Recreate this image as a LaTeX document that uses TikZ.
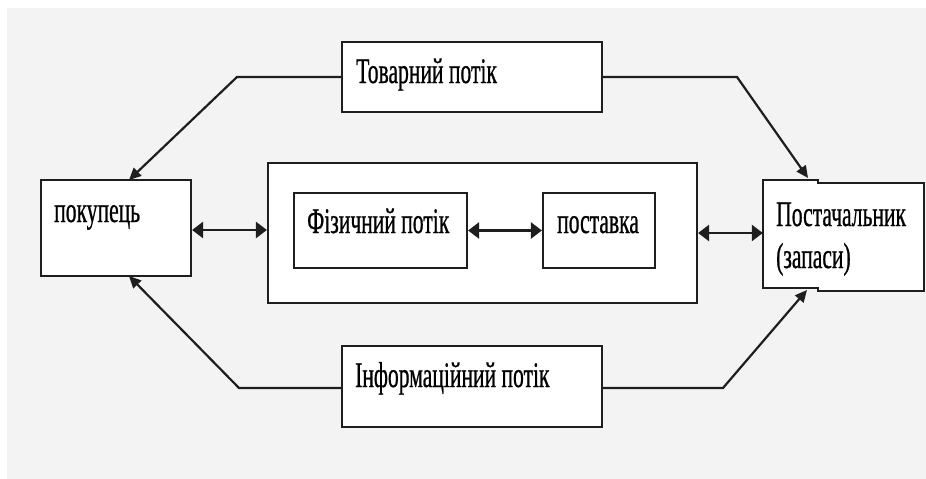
\documentclass[tikz,border=0pt]{standalone}
\usepackage{fontspec}
\newfontfamily\nfont[FakeStretch=0.6,FakeBold=0.6]{Liberation Serif}
\usetikzlibrary{arrows.meta}
\definecolor{bg}{HTML}{F3F3F3}
\definecolor{ln}{HTML}{1E1E1E}
\begin{document}
\begin{tikzpicture}[x=1pt,y=-1pt,
 box/.style={draw=ln, line width=2.2pt, fill=white, rectangle, inner sep=0pt},
 lbl/.style={inner sep=0pt, anchor=base west, font=\nfont\fontsize{36}{40}\selectfont},
 flow/.style={draw=ln, line width=2.2pt, -{Triangle[length=12pt,width=11pt]}},
 dbl/.style={draw=ln, line width=2.6pt, {Triangle[length=11pt,width=16pt]}-{Triangle[length=11pt,width=16pt]}}
]
\useasboundingbox (0,0) rectangle (926,479);
\fill[bg] (7,8) rectangle (926,479);

% boxes
\node[box, minimum width=260pt, minimum height=70pt] (top) at (472,77) {};
\node[box, minimum width=150pt, minimum height=96pt] (buy) at (116,228) {};
\node[box, minimum width=429pt, minimum height=140pt] (mid) at (482.5,233) {};
\node[box, minimum width=173pt, minimum height=75pt] (fiz) at (380.5,230.5) {};
\node[box, minimum width=112pt, minimum height=75pt] (pos) at (599,230.5) {};
\node[box, minimum width=260pt, minimum height=81pt] (bot) at (472,386.5) {};
\node[inner sep=0pt, minimum width=161pt, minimum height=109pt] (post) at (843.5,235.5) {};
\filldraw[fill=white, draw=ln, line width=2.2pt] (763,180) -- (818,180) -- (818,183) -- (924,183) -- (924,291) -- (818,291) -- (818,288) -- (763,288) -- cycle;

% labels
\node[lbl] (ttop) at (356,83) {Товарний потік};
\node[lbl] (tbuy) at (54,222) {покупець};
\node[lbl] (tfiz) at (307,233) {Фізичний потік};
\node[lbl] (tpos) at (557,233) {поставка};
\node[lbl] (tpost1) at (776,226) {Постачальник};
\node[lbl] (tpost2) at (776,268) {(запаси)};
\node[lbl] (tbot) at (355,387) {Інформаційний потік};

% connector points
\coordinate (tl) at (237,77);
\coordinate (tr) at (737,77);
\coordinate (bl) at (239,388);
\coordinate (br) at (723,388);
\coordinate (buyt) at (129,180);
\coordinate (buyb) at (129,276);
\coordinate (postt) at (808,178);
\coordinate (postb) at (807,290);
\coordinate (a1) at (0,230);
\coordinate (a3) at (0,233);

% flows
\draw[flow] (top.west) -- (tl) -- (buyt);
\draw[flow] (top.east) -- (tr) -- (postt);
\draw[flow] (bot.west |- bl) -- (bl) -- (buyb);
\draw[flow] (bot.east |- br) -- (br) -- (postb);

% double arrows
\draw[dbl] (buy.east |- a1) -- (mid.west |- a1);
\draw[dbl] (fiz.east) -- (pos.west);
\draw[dbl] (mid.east |- a3) -- (post.west |- a3);
\end{tikzpicture}
\end{document}
